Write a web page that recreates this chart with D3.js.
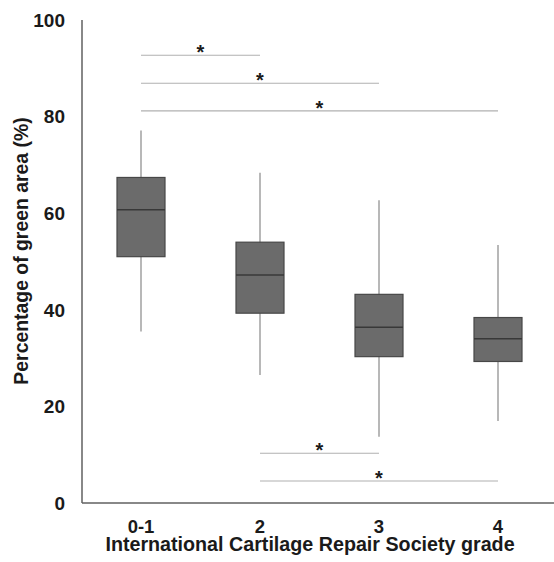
<!DOCTYPE html>
<html><head><meta charset="utf-8">
<script src="https://cdn.jsdelivr.net/npm/d3@7"></script>
<style>body{margin:0;background:#fff}svg{display:block}</style>
</head><body>
<svg id="c" width="554" height="562"></svg>
<script>
const categories = ["0-1", "2", "3", "4"];
const whiskerLow = [35.5, 26.5, 13.7, 17.0];
const q1 = [51.0, 39.3, 30.3, 29.3];
const median = [60.7, 47.2, 36.4, 34.0];
const q3 = [67.4, 54.0, 43.2, 38.4];
const whiskerHigh = [77.1, 68.4, 62.7, 53.4];
const yTicks = [0, 20, 40, 60, 80, 100];
// significance brackets: from category, to category, level (%)
const sigFrom = ["0-1", "0-1", "0-1", "2", "2"];
const sigTo = ["2", "3", "4", "3", "4"];
const sigLevel = [92.7, 86.9, 81.2, 10.3, 4.55];

(function () {
const svg = d3.select("#c");
const font = "'Liberation Sans', Arial, sans-serif";
const mLeft = 82, mRight = 554, mTop = 20, mBottom = 503;

const x = d3.scalePoint().domain(categories).range([141, 498]);
const y = d3.scaleLinear().domain([0, 100]).range([mBottom, mTop]);
const bw = 48;

// axes lines
svg.append("line").attr("x1", mLeft).attr("x2", mLeft).attr("y1", y(100)).attr("y2", mBottom)
  .attr("stroke", "#606060").attr("stroke-width", 1.5);
svg.append("line").attr("x1", mLeft).attr("x2", mRight).attr("y1", mBottom).attr("y2", mBottom)
  .attr("stroke", "#606060").attr("stroke-width", 1.5);

// y tick labels
svg.selectAll(".yt").data(yTicks).enter().append("text")
  .attr("x", 65).attr("y", d => y(d) + 6.8)
  .attr("text-anchor", "end").attr("font-family", font).attr("font-weight", "bold")
  .attr("font-size", 19).attr("fill", "#1a1a1a").text(d => d);

// x tick labels
svg.selectAll(".xt").data(categories).enter().append("text")
  .attr("x", d => x(d)).attr("y", 533)
  .attr("text-anchor", "middle").attr("font-family", font).attr("font-weight", "bold")
  .attr("font-size", 18.5).attr("fill", "#1a1a1a").text(d => d);

// axis titles
svg.append("text").attr("x", 310).attr("y", 551)
  .attr("text-anchor", "middle").attr("font-family", font).attr("font-weight", "bold")
  .attr("font-size", 19.7).attr("fill", "#1a1a1a").text("International Cartilage Repair Society grade");
svg.append("text").attr("transform", "translate(28,251) rotate(-90)")
  .attr("text-anchor", "middle").attr("font-family", font).attr("font-weight", "bold")
  .attr("font-size", 19.4).attr("fill", "#1a1a1a").text("Percentage of green area (%)");

// boxes
const g = svg.selectAll(".box").data(categories).enter().append("g");
g.append("line").attr("x1", d => x(d)).attr("x2", d => x(d))
  .attr("y1", (d, i) => y(whiskerHigh[i])).attr("y2", (d, i) => y(whiskerLow[i]))
  .attr("stroke", "#a0a0a0").attr("stroke-width", 1.5);
g.append("rect").attr("x", d => x(d) - bw / 2).attr("width", bw)
  .attr("y", (d, i) => y(q3[i])).attr("height", (d, i) => y(q1[i]) - y(q3[i]))
  .attr("fill", "#6b6b6b").attr("stroke", "#474747").attr("stroke-width", 1.2);
g.append("line").attr("x1", d => x(d) - bw / 2).attr("x2", d => x(d) + bw / 2)
  .attr("y1", (d, i) => y(median[i])).attr("y2", (d, i) => y(median[i]))
  .attr("stroke", "#383838").attr("stroke-width", 1.5);

// significance lines
sigLevel.forEach((lv, i) => {
  const x1 = x(sigFrom[i]), x2 = x(sigTo[i]);
  svg.append("line").attr("x1", x1).attr("x2", x2).attr("y1", y(lv)).attr("y2", y(lv))
    .attr("stroke", "#b0b0b0").attr("stroke-width", 1.2);
  svg.append("text").attr("x", (x1 + x2) / 2).attr("y", y(lv) + 4)
    .attr("text-anchor", "middle").attr("font-family", font).attr("font-weight", "bold")
    .attr("font-size", 20).attr("fill", "#1a1a1a").text("*");
});
})();
</script>
</body></html>
